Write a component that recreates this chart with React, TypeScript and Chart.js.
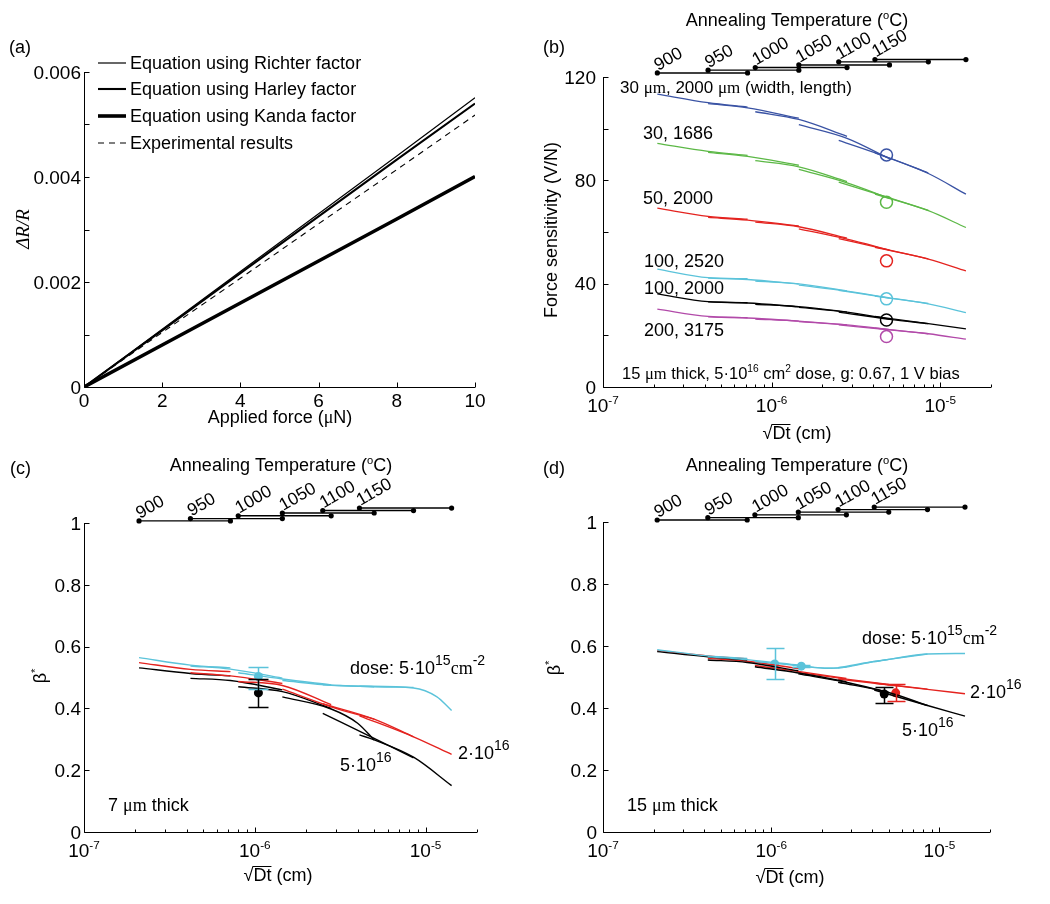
import React, { useEffect, useRef } from "react";
import { Chart, registerables } from "chart.js";

Chart.register(...registerables);

const SANS = '"Liberation Sans", Arial, Helvetica, sans-serif';
const SERIF = '"Liberation Serif", "Times New Roman", Times, serif';
const TICK = 19;
const TEXT = 18;
const DEG = Math.PI / 180;

// ================= Panel (a) data =================
const forceX = [0, 2, 4, 6, 8, 10];
const richterY = [0, 0.0011, 0.0022, 0.0033, 0.0044, 0.00551];
const harleyY = [0, 0.00108, 0.00217, 0.00325, 0.00433, 0.0054];
const kandaY = [0, 0.0008, 0.0016, 0.0024, 0.0032, 0.00401];
const experimentalY = [0, 0.00104, 0.00207, 0.00311, 0.00414, 0.00518];
const legendLabelsA = [
  "Equation using Richter factor",
  "Equation using Harley factor",
  "Equation using Kanda factor",
  "Experimental results",
];
const aXTicks = [0, 2, 4, 6, 8, 10];
const aXLabels = ["0", "2", "4", "6", "8", "10"];
const aYTicks = [0, 0.001, 0.002, 0.003, 0.004, 0.005, 0.006];
const aYLabelVals = [0, 0.002, 0.004, 0.006];
const aYLabels = ["0", "0.002", "0.004", "0.006"];

// ================= Annealing temperature axis =================
const annealTemps = ["900", "950", "1000", "1050", "1100", "1150"];
const annealStart = [2.1e-7, 4.2e-7, 8.0e-7, 1.45e-6, 2.5e-6, 4.1e-6];
const annealEnd = [7.2e-7, 1.45e-6, 2.8e-6, 5.0e-6, 8.5e-6, 1.42e-5];
const annealLevelB = [121.5, 122.6, 123.6, 124.6, 125.8, 126.7];
const annealLevelCD = [1.0065, 1.014, 1.023, 1.032, 1.04, 1.048];

// ================= log x ticks =================
const logMajor = [1e-7, 1e-6, 1e-5];
const logMajorExp = ["-7", "-6", "-5"];
const logMinor = [
  2e-7, 3e-7, 4e-7, 5e-7, 6e-7, 7e-7, 8e-7, 9e-7,
  2e-6, 3e-6, 4e-6, 5e-6, 6e-6, 7e-6, 8e-6, 9e-6,
  2e-5,
];

// segment x positions (one segment per annealing temperature)
const segX = [
  [2.1e-7, 4.2e-7, 7.2e-7],
  [4.2e-7, 7.2e-7, 1.45e-6],
  [8.0e-7, 1.45e-6, 2.8e-6],
  [1.45e-6, 2.8e-6, 5.0e-6],
  [2.5e-6, 5.0e-6, 8.5e-6],
  [4.1e-6, 8.5e-6, 1.42e-5],
];

// ================= Panel (b) data =================
const bBlue = [[113.3, 110.0, 108.3], [109.6, 108.0, 104.0], [106.5, 103.5, 97.0], [101.5, 96.2, 88.3], [95.4, 88.6, 82.8], [90.6, 82.6, 74.6]];
const bGreen = [[94.3, 91.2, 89.6], [90.8, 89.2, 85.8], [87.6, 85.2, 79.5], [84.2, 79.0, 73.0], [79.3, 73.2, 68.3], [74.6, 68.2, 61.7]];
const bRed = [[69.2, 66.0, 64.9], [65.6, 64.6, 62.3], [63.8, 62.0, 57.6], [61.2, 57.2, 53.0], [57.4, 53.0, 49.6], [54.0, 49.5, 44.9]];
const bCyan = [[45.6, 42.3, 41.9], [42.1, 41.6, 39.8], [41.0, 39.9, 37.2], [39.4, 37.1, 34.5], [37.4, 34.4, 32.3], [35.2, 32.2, 28.8]];
const bBlack = [[36.0, 33.0, 32.6], [32.9, 32.5, 31.0], [32.0, 31.1, 29.0], [30.8, 29.0, 26.3], [29.0, 26.2, 24.5], [27.3, 24.5, 22.5]];
const bMagenta = [[30.1, 27.3, 26.8], [27.1, 26.7, 25.5], [26.3, 25.5, 24.0], [25.3, 24.0, 22.2], [24.0, 22.1, 20.6], [22.8, 20.6, 18.5]];
const bCircleX = 4.8e-6;
const bCircleY = [89.8, 71.5, 48.8, 34.1, 25.9, 19.5];
const bYTicks = [0, 20, 40, 60, 80, 100, 120];
const bYLabelVals = [0, 40, 80, 120];
const bYLabels = ["0", "40", "80", "120"];

// ================= Panel (c) data =================
const cCyanX = [segX[0], segX[1], segX[2], segX[3], segX[4], [4.1e-6, 8.5e-6, 1.16e-5, 1.42e-5]];
const cCyan = [[0.564, 0.54, 0.531], [0.537, 0.527, 0.498], [0.515, 0.495, 0.476], [0.49, 0.475, 0.47], [0.476, 0.47, 0.468], [0.472, 0.466, 0.438, 0.393]];
const cRed = [[0.548, 0.526, 0.519], [0.515, 0.505, 0.481], [0.487, 0.474, 0.412], [0.462, 0.405, 0.365], [0.415, 0.365, 0.308], [0.376, 0.308, 0.251]];
const cBlackX = [segX[0], segX[1], segX[2], [1.45e-6, 2.8e-6, 4.0e-6, 5.0e-6], segX[4], [4.1e-6, 5.0e-6, 8.5e-6, 1.42e-5]];
const cBlack = [[0.531, 0.513, 0.505], [0.497, 0.49, 0.46], [0.47, 0.454, 0.4], [0.437, 0.398, 0.352, 0.298], [0.384, 0.303, 0.24], [0.314, 0.298, 0.242, 0.15]];
const cErrX = [1.05e-6, 1.05e-6];
const cErrY = [0.503, 0.45];
const cErrLo = [0.463, 0.405];
const cErrHi = [0.533, 0.494];

// ================= Panel (d) data =================
const dCyanX = [segX[0], segX[1], [8.0e-7, 1.45e-6, 2.2e-6, 2.8e-6], [1.45e-6, 2.2e-6, 2.8e-6, 4.0e-6, 5.0e-6], [2.5e-6, 4.0e-6, 5.0e-6, 8.5e-6], segX[5]];
const dCyan = [[0.588, 0.568, 0.56], [0.566, 0.556, 0.538], [0.55, 0.537, 0.528, 0.532], [0.536, 0.528, 0.532, 0.549, 0.557], [0.53, 0.549, 0.557, 0.574], [0.549, 0.574, 0.576]];
const dRed = [[0.585, 0.568, 0.558], [0.56, 0.551, 0.527], [0.537, 0.518, 0.495], [0.515, 0.493, 0.476], [0.493, 0.475, 0.461], [0.48, 0.46, 0.446]];
const dBlack = [[0.582, 0.565, 0.555], [0.555, 0.547, 0.52], [0.533, 0.513, 0.485], [0.51, 0.483, 0.45], [0.483, 0.45, 0.408], [0.458, 0.408, 0.374]];
const dErrX = [1.05e-6, 1.51e-6, 4.7e-6, 5.5e-6];
const dErrY = [0.542, 0.535, 0.445, 0.449];
const dErrLo = [0.492, 0.531, 0.417, 0.424];
const dErrHi = [0.592, 0.539, 0.469, 0.477];

const betaTicks = [0, 0.2, 0.4, 0.6, 0.8, 1];
const betaLabels = ["0", "0.2", "0.4", "0.6", "0.8", "1"];

// ================= colours =================
const BLUE = "#3a53a4";
const GREEN = "#5cb846";
const RED = "#e4231f";
const CYAN = "#5bc3da";
const BLACK = "#000000";
const MAGENTA = "#b24aa9";

// ================= rich text helper =================
type Part = { t: string; sup?: boolean; big?: boolean; serif?: boolean; italic?: boolean; over?: boolean };
type TextItem = { parts: Part[]; x: number; y: number; align?: "left" | "center" | "right"; rot?: number; size?: number };

function partFont(p: Part, size: number) {
  const s = p.sup ? size * (p.big ? 0.78 : 0.62) : size;
  return `${p.italic ? "italic " : ""}${s}px ${p.serif ? SERIF : SANS}`;
}

function drawRich(
  ctx: CanvasRenderingContext2D,
  parts: Part[],
  x: number,
  y: number,
  size: number,
  align: "left" | "center" | "right" = "left",
  rot = 0,
  anchor: "middle" | "baseline" = "middle"
) {
  ctx.save();
  ctx.translate(x, y);
  if (rot) ctx.rotate(rot);
  ctx.fillStyle = "#000";
  ctx.strokeStyle = "#000";
  ctx.textBaseline = "alphabetic";
  ctx.textAlign = "left";
  const widths = parts.map((p) => {
    ctx.font = partFont(p, size);
    return ctx.measureText(p.t).width;
  });
  const total = widths.reduce((a, b) => a + b, 0);
  let cx = align === "left" ? 0 : align === "center" ? -total / 2 : -total;
  const base = anchor === "middle" ? size * 0.36 : 0;
  parts.forEach((p, i) => {
    ctx.font = partFont(p, size);
    const by = p.sup ? base - size * (p.big ? 0.5 : 0.42) : base;
    ctx.fillText(p.t, cx, by);
    if (p.over) {
      ctx.beginPath();
      ctx.lineWidth = 1;
      const oy = Math.round(base - size * 0.86) + 0.5;
      ctx.moveTo(cx - 1, oy);
      ctx.lineTo(cx + widths[i], oy);
      ctx.stroke();
    }
    cx += widths[i];
  });
  ctx.restore();
}

// ================= frame plugin =================
type FrameCfg = {
  offX: number;
  offY: number;
  yTop: number;
  xMajor: number[];
  xMinor?: number[];
  yMajor: number[];
  xLabels: { v: number; parts: Part[] }[];
  yLabels: { v: number; parts: Part[] }[];
  xLabelDy: number;
  yGap: number;
  texts: TextItem[];
  extra?: (chart: Chart, ctx: CanvasRenderingContext2D) => void;
};

function framePlugin(cfg: FrameCfg) {
  return {
    id: "frame",
    afterDraw(chart: Chart) {
      const ctx = chart.ctx;
      const { left, right, bottom } = chart.chartArea;
      const xs = chart.scales.x;
      const ys = chart.scales.y;
      ctx.save();
      ctx.strokeStyle = "#000";
      ctx.lineWidth = 1;
      ctx.beginPath();
      const L = Math.round(left) + 0.5;
      const B = Math.round(bottom) + 0.5;
      ctx.moveTo(L, Math.round(ys.getPixelForValue(cfg.yTop)));
      ctx.lineTo(L, B);
      ctx.lineTo(Math.round(right), B);
      ctx.stroke();
      ctx.beginPath();
      cfg.xMajor.forEach((v) => {
        const p = Math.round(xs.getPixelForValue(v)) + 0.5;
        ctx.moveTo(p, B);
        ctx.lineTo(p, B - 5);
      });
      (cfg.xMinor || []).forEach((v) => {
        const p = Math.round(xs.getPixelForValue(v)) + 0.5;
        ctx.moveTo(p, B);
        ctx.lineTo(p, B - 3);
      });
      cfg.yMajor.forEach((v) => {
        const p = Math.round(ys.getPixelForValue(v)) + 0.5;
        ctx.moveTo(L, p);
        ctx.lineTo(L + 5, p);
      });
      ctx.stroke();
      cfg.xLabels.forEach((l) => drawRich(ctx, l.parts, xs.getPixelForValue(l.v), bottom + cfg.xLabelDy, TICK, "center"));
      cfg.yLabels.forEach((l) => drawRich(ctx, l.parts, left - cfg.yGap, ys.getPixelForValue(l.v), TICK, "right"));
      cfg.texts.forEach((t) =>
        drawRich(ctx, t.parts, t.x - cfg.offX, t.y - cfg.offY, t.size ?? TEXT, t.align ?? "left", (t.rot ?? 0) * DEG)
      );
      if (cfg.extra) cfg.extra(chart, ctx);
      ctx.restore();
    },
  };
}

// ================= dataset helpers =================
function segSets(xs: number[][], ys: number[][], color: string, width = 1.3) {
  return ys.map((yy, i) => ({
    data: yy.map((v, j) => ({ x: xs[i][j], y: v })),
    borderColor: color,
    backgroundColor: color,
    borderWidth: width,
    pointRadius: 0,
    showLine: true,
    fill: false,
    cubicInterpolationMode: "monotone" as const,
  }));
}

function annealSets(levels: number[]) {
  return annealTemps.map((_, i) => ({
    data: [
      { x: annealStart[i], y: levels[i] },
      { x: annealEnd[i], y: levels[i] },
    ],
    borderColor: "#000",
    backgroundColor: "#000",
    borderWidth: 1.4,
    pointRadius: 2.6,
    pointBorderWidth: 0,
    showLine: true,
  }));
}

function annealLabels(levels: number[]) {
  return (chart: Chart, ctx: CanvasRenderingContext2D) => {
    const xs = chart.scales.x;
    const ys = chart.scales.y;
    annealTemps.forEach((t, i) => {
      const px = xs.getPixelForValue(annealStart[i]);
      const py = ys.getPixelForValue(levels[i]);
      drawRich(ctx, [{ t }], px + 1, py - 2, 17.5, "left", -30 * DEG, "baseline");
    });
  };
}

function errorBars(xv: number[], yv: number[], lo: number[], hi: number[], colors: string[], cap: number) {
  return (chart: Chart, ctx: CanvasRenderingContext2D) => {
    const xs = chart.scales.x;
    const ys = chart.scales.y;
    xv.forEach((xx, i) => {
      const px = Math.round(xs.getPixelForValue(xx)) + 0.5;
      const pl = Math.round(ys.getPixelForValue(lo[i])) + 0.5;
      const ph = Math.round(ys.getPixelForValue(hi[i])) + 0.5;
      ctx.strokeStyle = colors[i];
      ctx.lineWidth = 1.5;
      ctx.beginPath();
      ctx.moveTo(px, pl);
      ctx.lineTo(px, ph);
      ctx.moveTo(px - cap, pl);
      ctx.lineTo(px + cap, pl);
      ctx.moveTo(px - cap, ph);
      ctx.lineTo(px + cap, ph);
      ctx.stroke();
    });
  };
}

function pointSets(xv: number[], yv: number[], colors: string[], r: number) {
  return xv.map((xx, i) => ({
    data: [{ x: xx, y: yv[i] }],
    borderColor: colors[i],
    backgroundColor: colors[i],
    pointRadius: r,
    pointBorderWidth: 0,
    showLine: false,
  }));
}

const logXLabels = logMajor.map((v, i) => ({ v, parts: [{ t: "10" }, { t: logMajorExp[i], sup: true }] as Part[] }));
const annealTitle: Part[] = [{ t: "Annealing Temperature (" }, { t: "o", sup: true }, { t: "C)" }];
const sqrtDt: Part[] = [{ t: "√" }, { t: "Dt", over: true }, { t: " (cm)" }];
const betaTitle: Part[] = [{ t: "β" }, { t: "*", sup: true }];
const doseText: Part[] = [
  { t: "dose: 5·10" },
  { t: "15", sup: true, big: true },
  { t: "cm", serif: true },
  { t: "-2", sup: true, big: true },
];
const dose2: Part[] = [{ t: "2·10" }, { t: "16", sup: true, big: true }];
const dose5: Part[] = [{ t: "5·10" }, { t: "16", sup: true, big: true }];

function baseOptions(pad: { left: number; right: number; top: number; bottom: number }, x: any, y: any) {
  return {
    responsive: false,
    animation: false as const,
    devicePixelRatio: 1,
    layout: { padding: pad },
    plugins: { legend: { display: false }, tooltip: { enabled: false }, title: { display: false } },
    events: [] as any[],
    scales: {
      x: { ...x, display: false },
      y: { ...y, display: false },
    },
  };
}

// ================= chart configs =================
function makeA(): any {
  const mk = (ys: number[], w: number, dash: number[] = []) => ({
    data: ys.map((v, i) => ({ x: forceX[i], y: v })),
    borderColor: "#000",
    backgroundColor: "#000",
    borderWidth: w,
    borderDash: dash,
    pointRadius: 0,
    showLine: true,
  });
  const datasets = [mk(richterY, 1.2), mk(harleyY, 2.1), mk(kandaY, 3.6), mk(experimentalY, 1.1, [6, 5])];
  const legendRows = [63, 89, 116, 143];
  const cfg: FrameCfg = {
    offX: 0,
    offY: 0,
    yTop: 0.006,
    xMajor: aXTicks,
    yMajor: aYTicks,
    xLabels: aXTicks.map((v, i) => ({ v, parts: [{ t: aXLabels[i] }] })),
    yLabels: aYLabelVals.map((v, i) => ({ v, parts: [{ t: aYLabels[i] }] })),
    xLabelDy: 13,
    yGap: 3,
    texts: [
      { parts: [{ t: "(a)" }], x: 9, y: 47 },
      { parts: [{ t: "ΔR/R", italic: true, serif: true }], x: 22, y: 229, align: "center", rot: -90, size: 19 },
      { parts: [{ t: "Applied force (" }, { t: "μ", serif: true }, { t: "N)" }], x: 280, y: 417, align: "center" },
    ],
    extra: (chart, ctx) => {
      legendLabelsA.forEach((lab, i) => {
        const ds: any = chart.data.datasets[i];
        const y = legendRows[i];
        ctx.strokeStyle = "#000";
        ctx.lineWidth = ds.borderWidth;
        ctx.setLineDash(ds.borderDash || []);
        ctx.beginPath();
        ctx.moveTo(98, y);
        ctx.lineTo(126, y);
        ctx.stroke();
        ctx.setLineDash([]);
        drawRich(ctx, [{ t: lab }], 130, y, TEXT, "left");
      });
    },
  };
  return {
    type: "scatter",
    data: { datasets },
    options: baseOptions({ left: 84, right: 50, top: 72, bottom: 65 }, { type: "linear", min: 0, max: 10 }, { type: "linear", min: 0, max: 0.006 }),
    plugins: [framePlugin(cfg)],
  };
}

function makeB(): any {
  const colors = [BLUE, GREEN, RED, CYAN, BLACK, MAGENTA];
  const series = [bBlue, bGreen, bRed, bCyan, bBlack, bMagenta];
  const datasets: any[] = [];
  series.forEach((s, i) => datasets.push(...segSets(segX, s, colors[i], 1.3)));
  colors.forEach((c, i) =>
    datasets.push({
      data: [{ x: bCircleX, y: bCircleY[i] }],
      borderColor: c,
      backgroundColor: "rgba(0,0,0,0)",
      pointRadius: 6,
      pointBorderWidth: 1.5,
      showLine: false,
    })
  );
  datasets.push(...annealSets(annealLevelB));
  const cfg: FrameCfg = {
    offX: 525,
    offY: 0,
    yTop: 120,
    xMajor: logMajor,
    xMinor: logMinor,
    yMajor: bYTicks,
    xLabels: logXLabels,
    yLabels: bYLabelVals.map((v, i) => ({ v, parts: [{ t: bYLabels[i] }] })),
    xLabelDy: 18,
    yGap: 7,
    texts: [
      { parts: [{ t: "(b)" }], x: 543, y: 47 },
      { parts: annealTitle, x: 797, y: 20, align: "center" },
      { parts: [{ t: "Force sensitivity (V/N)" }], x: 551, y: 230, align: "center", rot: -90 },
      { parts: sqrtDt, x: 797, y: 433, align: "center" },
      {
        parts: [{ t: "30 " }, { t: "μm", serif: true }, { t: ", 2000 " }, { t: "μm", serif: true }, { t: " (width, length)" }],
        x: 620,
        y: 87,
        size: 17,
      },
      { parts: [{ t: "30, 1686" }], x: 643, y: 133 },
      { parts: [{ t: "50, 2000" }], x: 643, y: 198 },
      { parts: [{ t: "100, 2520" }], x: 644, y: 261 },
      { parts: [{ t: "100, 2000" }], x: 644, y: 288 },
      { parts: [{ t: "200, 3175" }], x: 644, y: 330 },
      {
        parts: [
          { t: "15 " },
          { t: "μm", serif: true },
          { t: " thick, 5·10" },
          { t: "16", sup: true },
          { t: " cm" },
          { t: "2", sup: true },
          { t: " dose, g: 0.67, 1 V bias" },
        ],
        x: 622,
        y: 373,
        size: 16.5,
      },
    ],
    extra: annealLabels(annealLevelB),
  };
  return {
    type: "scatter",
    data: { datasets },
    options: baseOptions(
      { left: 78, right: 59, top: 51, bottom: 65 },
      { type: "logarithmic", min: 1e-7, max: 2e-5 },
      { type: "linear", min: 0, max: 130 }
    ),
    plugins: [framePlugin(cfg)],
  };
}

function makeC(): any {
  const datasets: any[] = [
    ...segSets(cCyanX, cCyan, CYAN, 1.4),
    ...segSets(segX, cRed, RED, 1.4),
    ...segSets(cBlackX, cBlack, BLACK, 1.4),
    ...pointSets(cErrX, cErrY, [CYAN, BLACK], 4.5),
    ...annealSets(annealLevelCD),
  ];
  const eb = errorBars(cErrX, cErrY, cErrLo, cErrHi, [CYAN, BLACK], 10);
  const al = annealLabels(annealLevelCD);
  const cfg: FrameCfg = {
    offX: 0,
    offY: 452,
    yTop: 1,
    xMajor: logMajor,
    xMinor: logMinor,
    yMajor: betaTicks,
    xLabels: logXLabels,
    yLabels: betaTicks.map((v, i) => ({ v, parts: [{ t: betaLabels[i] }] })),
    xLabelDy: 18,
    yGap: 3,
    texts: [
      { parts: [{ t: "(c)" }], x: 10, y: 468 },
      { parts: annealTitle, x: 281, y: 465, align: "center" },
      { parts: betaTitle, x: 40, y: 676, align: "center", rot: -90 },
      { parts: sqrtDt, x: 278, y: 875, align: "center" },
      { parts: doseText, x: 350, y: 668 },
      { parts: dose2, x: 458, y: 753 },
      { parts: dose5, x: 340, y: 765 },
      { parts: [{ t: "7 " }, { t: "μm", serif: true }, { t: " thick" }], x: 108, y: 805 },
    ],
    extra: (chart, ctx) => {
      eb(chart, ctx);
      al(chart, ctx);
    },
  };
  return {
    type: "scatter",
    data: { datasets },
    options: baseOptions(
      { left: 84, right: 48, top: 40, bottom: 72 },
      { type: "logarithmic", min: 1e-7, max: 2e-5 },
      { type: "linear", min: 0, max: 1.1 }
    ),
    plugins: [framePlugin(cfg)],
  };
}

function makeD(): any {
  const errColors = [CYAN, CYAN, BLACK, RED];
  const datasets: any[] = [
    ...segSets(dCyanX, dCyan, CYAN, 1.4),
    ...segSets(segX, dBlack, BLACK, 1.4),
    ...segSets(segX, dRed, RED, 1.4),
    ...pointSets(dErrX, dErrY, errColors, 4.5),
    ...annealSets(annealLevelCD),
  ];
  const eb = errorBars(dErrX, dErrY, dErrLo, dErrHi, errColors, 9);
  const al = annealLabels(annealLevelCD);
  const cfg: FrameCfg = {
    offX: 525,
    offY: 452,
    yTop: 1,
    xMajor: logMajor,
    xMinor: logMinor,
    yMajor: betaTicks,
    xLabels: logXLabels,
    yLabels: betaTicks.map((v, i) => ({ v, parts: [{ t: betaLabels[i] }] })),
    xLabelDy: 18,
    yGap: 6,
    texts: [
      { parts: [{ t: "(d)" }], x: 543, y: 468 },
      { parts: annealTitle, x: 797, y: 465, align: "center" },
      { parts: betaTitle, x: 554, y: 668, align: "center", rot: -90 },
      { parts: sqrtDt, x: 790, y: 877, align: "center" },
      { parts: doseText, x: 862, y: 638 },
      { parts: dose2, x: 970, y: 692 },
      { parts: dose5, x: 902, y: 730 },
      { parts: [{ t: "15 " }, { t: "μm", serif: true }, { t: " thick" }], x: 627, y: 805 },
    ],
    extra: (chart, ctx) => {
      eb(chart, ctx);
      al(chart, ctx);
    },
  };
  return {
    type: "scatter",
    data: { datasets },
    options: baseOptions(
      { left: 78, right: 60, top: 39, bottom: 72 },
      { type: "logarithmic", min: 1e-7, max: 2e-5 },
      { type: "linear", min: 0, max: 1.1 }
    ),
    plugins: [framePlugin(cfg)],
  };
}

function Panel({ left, top, make }: { left: number; top: number; make: () => any }) {
  const ref = useRef<HTMLCanvasElement>(null);
  useEffect(() => {
    const chart = new Chart(ref.current as HTMLCanvasElement, make());
    return () => chart.destroy();
  }, []);
  return (
    <canvas
      ref={ref}
      width={525}
      height={452}
      style={{ position: "absolute", left, top, width: 525, height: 452 }}
    />
  );
}

export default function App() {
  return (
    <div style={{ position: "absolute", left: 0, top: 0, width: 1050, height: 904, background: "#fff", overflow: "hidden" }}>
      <Panel left={0} top={0} make={makeA} />
      <Panel left={525} top={0} make={makeB} />
      <Panel left={0} top={452} make={makeC} />
      <Panel left={525} top={452} make={makeD} />
    </div>
  );
}
